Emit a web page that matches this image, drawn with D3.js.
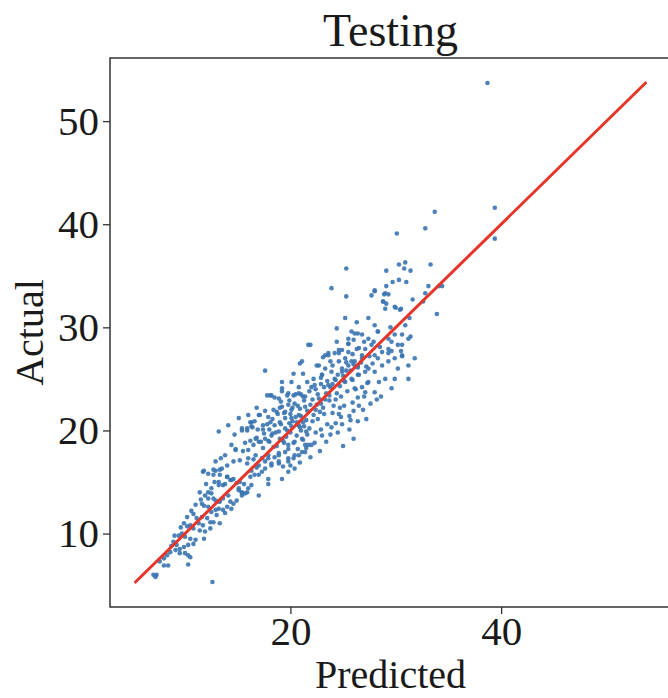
<!DOCTYPE html>
<html>
<head>
<meta charset="utf-8">
<script src="https://cdn.jsdelivr.net/npm/d3@7"></script>
<style>
  body { margin: 0; background: #fff; }
  text { font-family: "Liberation Serif", "Times New Roman", serif; fill: #1a1a1a; }
</style>
</head>
<body>
<svg id="chart" width="668" height="698"></svg>
<script>
const title = "Testing";
const xLabel = "Predicted";
const yLabel = "Actual";
const xTicks = [20, 40];
const yTicks = [10, 20, 30, 40, 50];

// [predicted, actual]
const lowPoints = [
  [11.7,16.0],[12.7,16.2],[13.3,16.2],[12.7,15.7],[13.2,15.0],[14.0,15.5],[14.3,15.2],[14.6,15.3],[14.9,14.9],[15.2,15.0],
  [13.6,14.7],[15.1,14.2],[15.4,13.9],[11.4,14.0],[12.5,13.9],[12.2,13.4],[12.9,13.2],[13.3,13.1],[13.6,13.4],[14.3,13.1],
  [14.6,12.9],[11.8,12.7],[12.2,12.6],[12.5,12.1],[12.9,12.3],[13.2,12.4],[13.6,12.3],[14.0,12.6],[10.8,11.9],[11.1,11.5],
  [11.6,11.6],[12.1,11.5],[12.4,11.1],[12.7,11.1],[13.3,11.0],[9.9,11.0],[10.2,10.7],[10.5,10.8],[10.8,10.5],[11.4,10.3],
  [11.9,10.2],[9.4,9.8],[9.7,10.0],[10.0,9.7],[10.5,9.5],[11.0,9.4],[11.8,9.5],[8.9,9.2],[9.2,8.9],[9.5,8.5],
  [9.9,8.7],[10.3,8.9],[10.8,9.0],[8.6,8.2],[9.1,8.4],[9.5,8.1],[10.0,8.1],[10.5,7.7],[8.3,7.9],[8.0,7.6],
  [7.6,7.3],[8.0,6.9],[8.4,6.9],[10.3,7.9],[10.3,7.0],[7.0,6.0],[7.3,6.0],[7.2,5.8],[12.6,5.3],
  [14.7,19.6],[14.4,18.6],[13.8,17.6],[13.4,17.3],[12.8,15.0],[12.0,14.8],[11.5,13.3],[11.0,12.8],[10.6,12.2],[10.2,11.6],
  [9.6,10.6],[9.0,9.8],[8.7,8.8],[11.3,11.0],[11.7,10.8],[12.4,10.5],[13.0,11.8],[13.8,12.0],[14.4,12.4],[14.9,13.2]
];

const midPoints = [
  [18.1,23.4],[18.9,23.1],[19.2,23.8],[19.8,23.6],[20.3,23.4],[20.8,23.6],[21.2,23.3],[20.4,22.6],[19.8,22.5],[19.2,22.3],
  [18.7,21.8],[19.5,21.8],[20.1,22.0],[20.9,22.1],[21.4,22.3],[20.8,21.5],[20.1,21.2],[19.5,21.2],[19.0,20.8],[18.5,20.5],
  [18.1,20.8],[17.4,20.5],[17.1,21.5],[17.9,21.3],[16.2,20.8],[15.1,21.2],[16.3,20.4],[15.9,20.0],[15.4,20.0],[14.1,20.5],
  [13.2,19.9],[16.7,19.2],[17.0,18.9],[16.5,18.6],[16.0,18.1],[17.6,19.2],[18.2,19.5],[18.9,19.9],[19.5,20.2],[20.1,20.4],
  [20.8,20.5],[21.2,20.8],[21.5,19.9],[21.1,19.2],[20.4,18.9],[19.8,18.6],[19.5,17.9],[18.9,17.6],[19.8,17.3],[20.4,17.6],
  [21.1,17.9],[21.4,18.6],[18.4,18.4],[17.9,17.6],[17.3,17.3],[16.7,17.6],[16.0,17.3],[15.2,17.1],[14.8,18.1],[14.6,17.0],
  [14.0,16.6],[13.5,16.3],[12.9,16.1],[12.2,15.8],[11.8,16.1],[12.9,17.0],[13.3,15.7],[14.0,15.5],[14.4,15.2],[13.8,14.8],
  [13.2,14.7],[12.5,14.4],[12.2,14.0],[12.7,13.4],[11.9,13.7],[11.6,12.9],[13.2,13.1],[14.1,13.7],[15.1,14.4],[15.4,13.7],
  [15.9,14.0],[17.0,13.7],[16.3,14.7],[17.6,16.3],[18.2,16.6],[18.9,16.8],[19.2,15.3],[19.8,16.0],[20.4,16.3],[17.9,15.3],
  [17.0,15.7],[15.4,20.2],[15.9,20.2],[16.3,20.8],[14.8,18.2],[17.9,14.8],
  [15.7,13.9],[15.4,14.0],[16.0,14.4],[16.6,15.7],[17.3,16.0],[18.2,16.8],[18.9,17.0],[19.8,17.0],[20.3,17.3],[20.8,17.6],
  [21.4,17.9],[21.7,18.6],[19.8,18.2],[18.9,17.8],[17.9,17.3],[17.0,16.6],[16.3,16.1],
  [15.6,14.8],[16.2,15.5],[16.8,16.4],[17.6,17.0],[18.5,17.4],[19.3,16.5],[20.0,16.6],[20.9,16.9],[21.9,17.4],[22.3,18.8],
  [16.2,19.0],[15.7,18.8],[15.5,18.0],[15.9,16.8],[16.5,17.2],[17.4,18.3],[18.0,18.9],[19.0,19.2],[16.0,21.5],[16.8,22.2]
];

const corePoints = [
  [21.7,28.3],[24.4,28.6],[25.5,28.4],[26.1,29.4],[26.8,29.3],[26.5,28.0],[25.5,27.6],[24.6,27.5],[23.8,26.7],[23.3,27.3],
  [22.7,26.3],[21.1,26.7],[20.3,25.5],[21.2,25.5],[17.6,25.8],[19.2,24.1],[20.1,24.7],[20.8,24.2],[21.6,24.7],[22.2,25.0],
  [23.0,25.4],[23.9,25.7],[24.9,26.0],[25.5,26.3],[26.1,26.7],[26.8,27.0],[27.1,25.7],[26.5,25.4],[25.9,24.9],[25.1,24.8],
  [24.7,24.3],[23.8,24.2],[23.4,23.6],[22.6,23.5],[22.1,23.0],[21.3,22.9],[20.7,22.4],[20.2,22.2],[19.4,21.7],[18.8,21.6],
  [18.3,21.1],[17.8,20.6],[17.4,20.1],[16.6,20.9],[16.4,20.3],[18.5,23.2],[17.8,23.4],[19.1,22.8],[19.7,23.4],[20.5,23.5],
  [21.0,23.5],[21.8,23.8],[22.4,24.0],[22.9,24.5],[23.5,24.8],[24.3,24.9],[25.0,25.3],[25.7,25.8],[26.4,26.1],[27.2,26.2],
  [27.3,24.6],[26.8,24.2],[26.2,24.0],[25.4,23.8],[24.8,23.3],[24.3,23.0],[23.7,22.9],[22.9,22.6],[22.4,22.0],[21.6,21.9],
  [21.0,21.4],[20.5,21.3],[19.9,20.7],[19.1,20.6],[18.6,19.8],[19.6,19.4],[20.0,19.8],[20.9,20.3],[21.3,20.4],[22.1,20.9],
  [22.6,21.1],[23.2,21.6],[24.0,21.7],[24.7,22.2],[25.1,22.4],[25.9,22.7],[26.4,23.2],[27.0,23.3],[26.9,22.0],[26.0,21.9],
  [25.6,21.4],[24.8,21.3],[24.3,20.7],[23.5,20.6],[22.9,20.1],[22.4,19.8],[21.6,19.6],[21.2,19.1],[20.3,18.8],[24.5,19.8],
  [25.6,20.1],[26.4,20.9],[27.2,21.1],[17.2,18.9],[16.8,19.3],[17.9,19.0],[25.0,18.5],[23.4,18.9],[22.8,18.0],[26.0,19.2],
  [20.9,26.5],[19.2,24.7],[18.2,23.4],[17.0,21.5],[25.5,28.9],[24.6,27.8],[23.6,27.5],[24.4,29.9],
  [19.3,19.0],[19.7,20.0],[20.2,20.9],[20.6,19.5],[21.0,20.0],[21.5,21.0],[21.8,20.2],[22.2,21.5],[22.5,22.5],[22.8,21.8],
  [23.1,22.2],[23.3,23.0],[23.7,23.4],[24.1,22.4],[24.4,23.6],[24.6,21.6],[23.9,20.3],[23.0,19.5],[22.0,18.6],[21.5,18.3],
  [20.7,18.2],[19.4,18.8],[18.7,18.5],[18.3,19.7],[18.0,20.1],[17.5,19.7],[16.9,20.1],[20.0,21.6],[20.6,20.8],[21.9,22.5],
  [22.7,23.1],[23.2,24.2],[24.0,24.5],[24.5,25.4],[25.3,25.8],[26.0,26.4],[26.7,26.6],[22.9,25.1],[22.0,24.2],[21.4,23.3],
  [19.9,22.9],[19.0,22.2],[18.4,22.0],[17.6,21.9],[23.8,19.6],[24.9,20.6],[25.7,21.0],[26.5,22.4],[27.6,22.6],[28.2,23.0]
];

const upperPoints = [
  [23.9,33.8],[25.3,33.0],[27.7,33.1],[28.0,33.5],[28.8,32.5],[30.0,31.9],[30.4,31.7],[25.2,30.9],[26.3,30.5],[27.4,30.9],
  [28.0,30.2],[28.3,29.6],[26.4,29.4],[25.8,29.6],[26.0,28.8],[25.5,28.4],[24.9,27.8],[24.2,27.5],[23.6,27.3],[23.1,27.1],
  [24.6,26.7],[22.5,26.3],[21.9,28.3],[27.4,28.9],[27.7,28.3],[27.1,27.9],[26.8,27.3],[28.0,27.3],[28.7,27.6],[29.3,27.9],
  [29.6,28.6],[29.9,27.0],[30.6,27.3],[31.2,26.3],[30.2,26.0],[29.3,26.7],[28.7,26.3],[28.0,25.7],[27.4,26.0],[26.4,26.3],
  [25.8,26.7],[25.2,27.0],[26.4,25.4],[25.8,25.0],[25.2,24.7],[24.2,25.0],[23.6,24.4],[23.0,25.4],[22.3,24.4],[29.0,25.0],
  [28.4,24.7],[27.4,24.7],[29.9,25.0],[29.6,24.1],[28.0,23.7],[27.1,23.7],[26.1,24.1],[24.9,25.7],[23.3,26.0],[31.2,28.9],
  [30.6,29.3],[29.3,28.9],[31.2,25.0],[31.8,27.0],[25.3,35.7],[28.0,33.6],[29.0,33.3],[29.1,32.3],[30.9,30.2],
  [27.5,27.2],[27.8,26.5],[28.3,27.0],[28.5,28.1],[27.9,28.6],[27.0,28.6],[26.3,27.9],[25.9,27.4],[25.3,26.6],[24.0,26.3],
  [28.6,23.3]
];

const topPoints = [
  [38.7,53.7],[39.4,41.6],[39.4,38.6],[33.7,41.2],[32.8,39.6],[30.1,39.1],[33.3,36.1],[30.3,36.1],[30.9,36.3],[30.8,35.7],
  [31.4,35.5],[29.1,35.5],[29.7,34.4],[30.3,34.6],[31.0,34.4],[29.1,34.0],[28.9,33.2],[29.3,33.2],[28.8,32.5],[29.0,31.8],
  [29.9,32.0],[30.5,31.8],[31.6,32.7],[32.6,32.5],[32.8,33.3],[33.1,34.0],[34.1,34.0],[34.4,34.0],[33.9,31.3],[31.3,30.9],
  [29.5,30.0],[29.9,29.3],[31.4,29.1],[30.2,28.3],[30.6,28.3],[29.6,27.7],[29.3,27.5],[30.5,27.7],[30.6,27.2],[28.3,29.6]
];

const points = [...lowPoints, ...midPoints, ...corePoints, ...upperPoints, ...topPoints];

const svg = d3.select("#chart");
const plot = { left: 110, right: 671, top: 58, bottom: 607 };

// the reference line runs over the range of actual values, axes get 5% margins
const [lo, hi] = d3.extent(points, d => d[1]);
const pad = (hi - lo) * 0.05;

const x = d3.scaleLinear().domain([lo - pad, hi + pad]).range([plot.left, plot.right]);
const y = d3.scaleLinear().domain([lo - pad, hi + pad]).range([plot.bottom, plot.top]);

svg.append("g")
  .selectAll("circle")
  .data(points)
  .join("circle")
  .attr("cx", d => x(d[0]))
  .attr("cy", d => y(d[1]))
  .attr("r", 2.3)
  .attr("fill", "#3a74b0")
  .attr("fill-opacity", 0.9);

svg.append("line")
  .attr("x1", x(lo)).attr("y1", y(lo))
  .attr("x2", x(hi)).attr("y2", y(hi))
  .attr("stroke", "#e63529")
  .attr("stroke-width", 3)
  .attr("stroke-linecap", "round");

// frame
svg.append("rect")
  .attr("x", plot.left).attr("y", plot.top)
  .attr("width", plot.right - plot.left).attr("height", plot.bottom - plot.top)
  .attr("fill", "none")
  .attr("stroke", "#333")
  .attr("stroke-width", 1.5);

const xAxis = d3.axisBottom(x).tickValues(xTicks).tickSize(7).tickPadding(2);
const yAxis = d3.axisLeft(y).tickValues(yTicks).tickSize(7).tickPadding(4);

const gx = svg.append("g").attr("transform", `translate(0,${plot.bottom})`).call(xAxis);
const gy = svg.append("g").attr("transform", `translate(${plot.left},0)`).call(yAxis);

[gx, gy].forEach(g => {
  g.select(".domain").remove();
  g.selectAll(".tick line").attr("stroke", "#333").attr("stroke-width", 1.3);
  g.selectAll(".tick text")
    .attr("font-size", 41)
    .attr("fill", "#1a1a1a");
});

svg.append("text")
  .attr("x", (plot.left + plot.right) / 2)
  .attr("y", 46)
  .attr("text-anchor", "middle")
  .attr("font-size", 46)
  .text(title);

svg.append("text")
  .attr("x", (plot.left + plot.right) / 2)
  .attr("y", 688)
  .attr("text-anchor", "middle")
  .attr("font-size", 40)
  .text(xLabel);

svg.append("text")
  .attr("transform", `translate(43,${(plot.top + plot.bottom) / 2}) rotate(-90)`)
  .attr("text-anchor", "middle")
  .attr("font-size", 40)
  .text(yLabel);
</script>
</body>
</html>
